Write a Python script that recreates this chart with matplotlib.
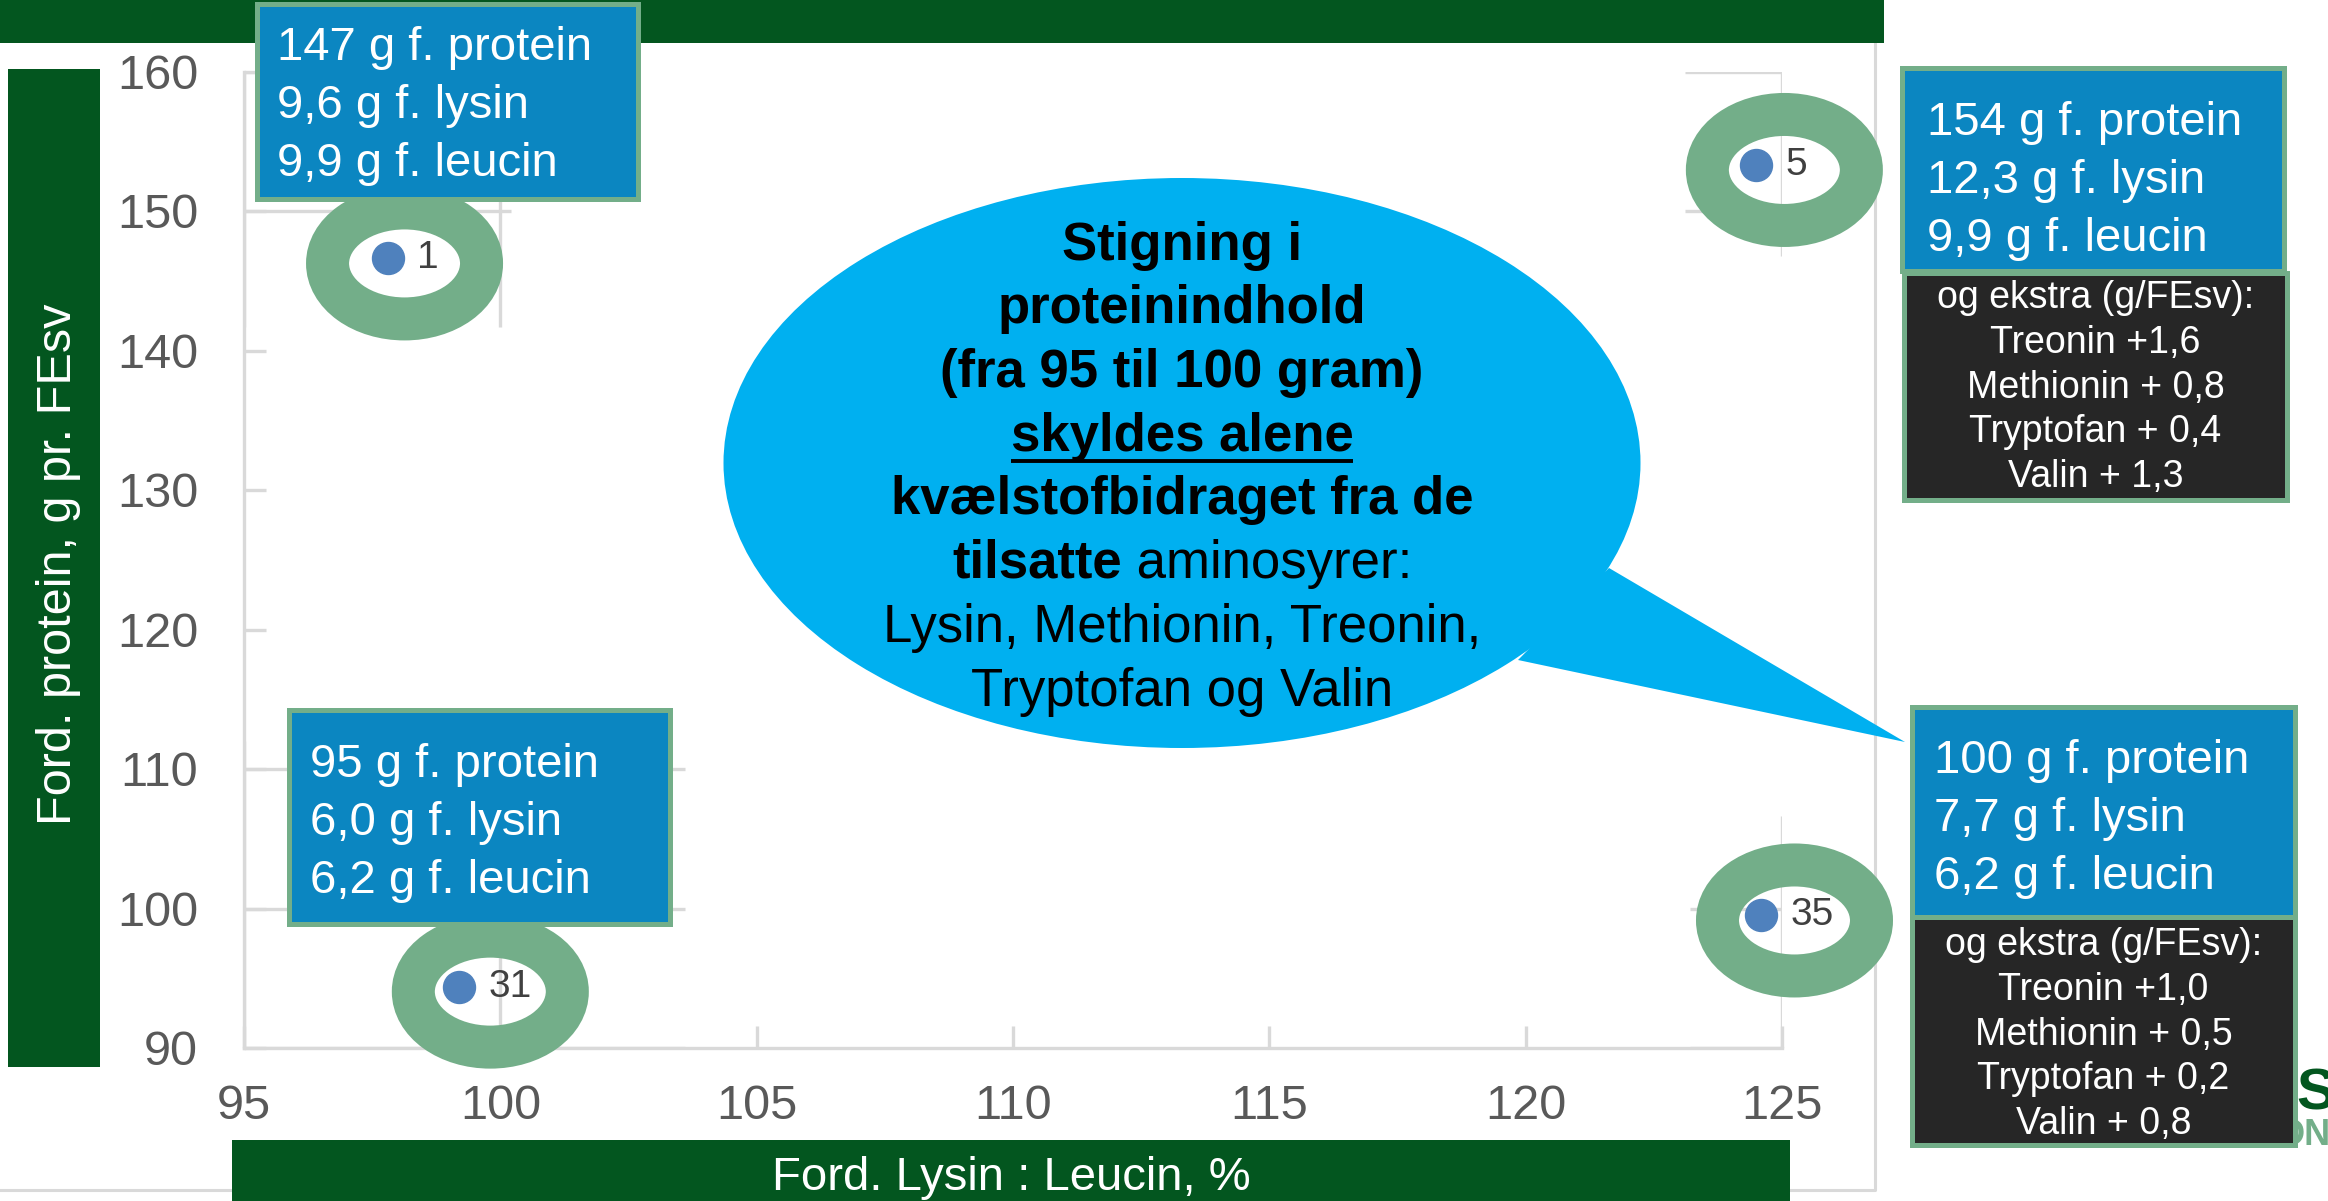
import matplotlib
matplotlib.use("Agg")
from matplotlib import pyplot as plt
from matplotlib.patches import Ellipse, Polygon, Rectangle
import numpy as np

plt.rcParams["font.family"] = ["Liberation Sans", "DejaVu Sans"]

W, H = 2328, 1201

# data
lysin_leucin = [97.8, 124.5, 99.2, 124.6]
protein = [146.6, 153.3, 94.4, 99.5]
point_labels = ["1", "5", "31", "35"]

x_ticks = [95, 100, 105, 110, 115, 120, 125]
y_ticks = [90, 100, 110, 120, 130, 140, 150, 160]

x_title = "Ford. Lysin : Leucin, %"
y_title = "Ford. protein, g pr. FEsv"

blue_1 = ["147 g f. protein", "9,6 g f. lysin", "9,9 g f. leucin"]
blue_5 = ["154 g f. protein", "12,3 g f. lysin", "9,9 g f. leucin"]
blue_31 = ["95 g f. protein", "6,0 g f. lysin", "6,2 g f. leucin"]
blue_35 = ["100 g f. protein", "7,7 g f. lysin", "6,2 g f. leucin"]
extra_5 = ["og ekstra (g/FEsv):", "Treonin +1,6", "Methionin + 0,8",
           "Tryptofan + 0,4", "Valin + 1,3"]
extra_35 = ["og ekstra (g/FEsv):", "Treonin +1,0", "Methionin + 0,5",
            "Tryptofan + 0,2", "Valin + 0,8"]

callout_bold = ["Stigning i", "proteinindhold", "(fra 95 til 100 gram)",
                "skyldes alene", "kvælstofbidraget fra de"]
callout_mixed = ["tilsatte", " aminosyrer:"]
callout_plain = ["Lysin, Methionin, Treonin,", "Tryptofan og Valin"]

DARK_GREEN = "#03561f"
RING = "#73ae89"
BLUE = "#0b86c1"
CYAN = "#00b0f0"
DARK = "#262626"
GRID = "#d9d9d9"
TICK_TXT = "#595959"
POINT = "#4f81bd"


fig = plt.figure(figsize=(W / 100, H / 100), dpi=100)
fig.patch.set_facecolor("white")

# ---- the scatter chart ----
ax = fig.add_axes([244 / W, 1 - 1048 / H, (1782 - 244) / W, (1048 - 71.5) / H])
ax.set_xlim(95, 125)
ax.set_ylim(90, 160)
ax.set_xticks(x_ticks)
ax.set_yticks(y_ticks)
for s in ("top", "right"):
    ax.spines[s].set_visible(False)
for s in ("left", "bottom"):
    ax.spines[s].set_color(GRID)
    ax.spines[s].set_linewidth(2.4)
ax.tick_params(direction="in", length=16, width=2.4, color=GRID,
               labelsize=35, labelcolor=TICK_TXT)
ax.tick_params(axis="x", pad=26)
ax.tick_params(axis="y", pad=33)

# only bits of the grid survive around the points
grid_windows = [(95, 100.2, 141.7, 160), (95, 103.6, 90, 112),
                (123.1, 125, 146.8, 160), (123.2, 125, 90, 106.6)]
for x0, x1, y0, y1 in grid_windows:
    for yt in y_ticks:
        if y0 <= yt <= y1:
            ax.hlines(yt, x0, x1, color=GRID, lw=2.4, zorder=0.5)
    for xt in x_ticks:
        if x0 <= xt <= x1:
            ax.vlines(xt, y0, y1, color=GRID, lw=2.4, zorder=0.5)

ax.scatter(lysin_leucin, protein, s=530, color=POINT, zorder=3, clip_on=False)
for x, y, lbl in zip(lysin_leucin, protein, point_labels):
    ax.annotate(lbl, (x, y), xytext=(21, 0), textcoords="offset points",
                va="center", ha="left", fontsize=28, color="#404040")

# ---- slide overlay, in pixel units (y down) ----
ov = fig.add_axes([0, 0, 1, 1])
ov.set_xlim(0, W)
ov.set_ylim(H, 0)
ov.set_facecolor("none")
ov.axis("off")


def box(x0, y0, x1, y1, face, edge=None, lw=0, z=4):
    ov.add_patch(Rectangle((x0, y0), x1 - x0, y1 - y0, facecolor=face,
                           edgecolor=edge if edge else face, linewidth=lw, zorder=z))


# picture border
ov.plot([1875, 1875, 0], [42, 1190, 1190], color=GRID, lw=2.2, zorder=1)

# green bars
box(0, 0, 1884, 43, DARK_GREEN, z=2)
box(8, 69, 100, 1067, DARK_GREEN, z=2)
box(232, 1140, 1790, 1201, DARK_GREEN, z=2)
ov.text(59, 564, y_title, rotation=90, ha="center", va="center",
        fontsize=35, color="white", zorder=6)
ov.text(1011, 1190, x_title, ha="center", va="baseline",
        fontsize=34, color="white", zorder=6)

# speech bubble
ov.add_patch(Ellipse((1182, 463), 917, 570, facecolor=CYAN, edgecolor="none", zorder=2))
ov.add_patch(Polygon([(1609, 568), (1518, 660), (1905, 742)], closed=True,
                     facecolor=CYAN, edgecolor="none", zorder=2))

fig.canvas.draw()
renderer = fig.canvas.get_renderer()
cx = 1182
baselines = [260, 323.5, 387, 450.5, 514, 578, 642, 706]
for i, line in enumerate(callout_bold):
    t = ov.text(cx, baselines[i], line, ha="center", va="baseline",
                fontsize=38, fontweight="bold", color="black", zorder=6)
    if line == "skyldes alene":
        bb = t.get_window_extent(renderer)
        ov.plot([bb.x0, bb.x1], [baselines[i] + 10] * 2, color="black",
                lw=2.8, solid_capstyle="butt", zorder=6)
t1 = ov.text(0, 0, callout_mixed[0], fontsize=38, fontweight="bold")
t2 = ov.text(0, 0, callout_mixed[1], fontsize=38)
w1 = t1.get_window_extent(renderer).width
w2 = t2.get_window_extent(renderer).width
start = cx - (w1 + w2) / 2
for t, x in ((t1, start), (t2, start + w1)):
    t.set_position((x, baselines[5]))
    t.set_va("baseline")
    t.set_ha("left")
    t.set_color("black")
    t.set_zorder(6)
for i, line in enumerate(callout_plain):
    ov.text(cx, baselines[6 + i], line, ha="center", va="baseline",
            fontsize=38, color="black", zorder=6)

# green rings around the points
pts = ax.transData.transform(np.column_stack([lysin_leucin, protein]))
ring_dx = [17, 28, 31, 33]
for (px, py), dx in zip(pts, ring_dx):
    ov.add_patch(Ellipse((px + dx, H - py + 5), 154, 111, fill=False,
                         edgecolor=RING, linewidth=43 * 0.72, zorder=3))

# logo bits behind the lower right box
ov.text(2296, 1110, "S", fontsize=42, fontweight="bold", color=DARK_GREEN,
        va="baseline", zorder=3)
ov.text(2276, 1145, "ON", fontsize=26, fontweight="bold", color=RING,
        va="baseline", zorder=3)

# info boxes
blue_boxes = [
    ((257, 4, 638, 199), 277, 60, blue_1),
    ((1902, 68, 2284, 271), 1927, 135, blue_5),
    ((289, 710, 670, 924), 310, 777, blue_31),
    ((1912, 707, 2295, 917), 1934, 773, blue_35),
]
for (x0, y0, x1, y1), tx, b0, lines in blue_boxes:
    box(x0, y0, x1, y1, BLUE, RING, 3.6)
    for i, line in enumerate(lines):
        ov.text(tx, b0 + 58 * i, line, ha="left", va="baseline",
                fontsize=34, color="white", zorder=6)

dark_boxes = [
    ((1904, 273, 2287, 500), 308, extra_5),
    ((1912, 917, 2295, 1145), 955, extra_35),
]
for (x0, y0, x1, y1), b0, lines in dark_boxes:
    box(x0, y0, x1, y1, DARK, RING, 3.6)
    for i, line in enumerate(lines):
        ov.text((x0 + x1) / 2, b0 + 44.8 * i, line, ha="center", va="baseline",
                fontsize=27, color="white", zorder=6)

fig.savefig("out.png", dpi=100)
